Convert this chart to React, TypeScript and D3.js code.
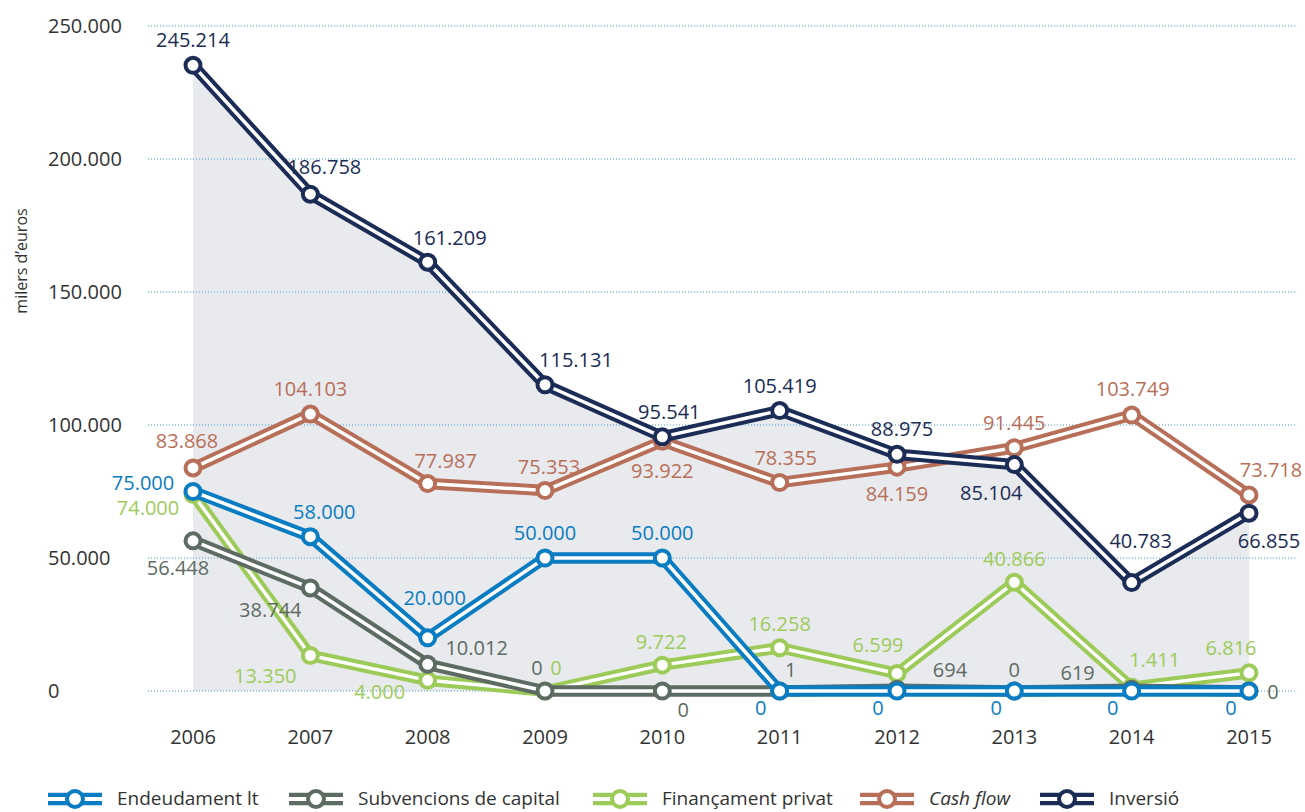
import React, { useEffect } from "react";
import * as d3 from "d3";

// ---- data ----
const years = ["2006", "2007", "2008", "2009", "2010", "2011", "2012", "2013", "2014", "2015"];
const endeudament = [75000, 58000, 20000, 50000, 50000, 0, 0, 0, 0, 0];
const subvencions = [56448, 38744, 10012, 0, 0, 1, 694, 0, 619, 0];
const financament = [74000, 13350, 4000, 0, 9722, 16258, 6599, 40866, 1411, 6816];
const cashFlow = [83868, 104103, 77987, 75353, 93922, 78355, 84159, 91445, 103749, 73718];
// the 2006 point is drawn at ~235k in the picture although its label reads 245.214
const inversio = [235214, 186758, 161209, 115131, 95541, 105419, 88975, 85104, 40783, 66855];
const inversioLabelOverride: Record<number, string> = { 0: "245.214" };
const yTicks = [0, 50000, 100000, 150000, 200000, 250000];
const seriesNames = ["Endeudament lt", "Subvencions de capital", "Finançament privat", "Cash flow", "Inversió"];

// ---- styles / layout ----
const COLORS = {
  end: "#0a7cc2",
  sub: "#5d6b62",
  fin: "#9dcb5a",
  cash: "#b86f59",
  inv: "#1b2c56",
};
const FONT = "'Open Sans', 'Noto Sans', sans-serif";

// label offsets (dx, dy) from each point
const offEnd = [[-50, -9], [14, -25], [7, -40], [0, -25], [0, -25], [-19, 17], [-19, 17], [-18, 17], [-19, 17], [-18, 17]];
const offSub = [[-15, 27], [-40, 22], [49, -16], [-8, -23], [21, 19], [11, -21], [53, -19], [0, -21], [-54, -16], [24, 1]];
const offFin = [[-45, 14], [-45, 21], [-48, 12], [11, -23], [-1, -23], [0, -24], [-19, -28], [0, -23], [23, -27], [-18, -25]];
const offCash = [[-6, -27], [0, -25], [18, -23], [4, -24], [0, 30], [6, -25], [0, 27], [0, -25], [1, -26], [22, -25]];
const offInv = [[0, -25], [14, -27], [22, -24], [31, -25], [7, -25], [0, -25], [5, -25], [-23, 28], [9, -42], [20, 28]];

const fmt = (v: number) => d3.format(",")(v).replace(/,/g, ".");

type Series = {
  name: string;
  values: number[];
  color: string;
  offsets: number[][];
  labelOverride?: Record<number, string>;
};

export default function App() {
  useEffect(() => {
    document.body.style.margin = "0";
  }, []);

  const W = 1305;
  const H = 812;
  const x = d3.scalePoint<string>().domain(years).range([193, 1249]);
  const y = d3.scaleLinear().domain([0, 250000]).range([691, 26]);

  const legendSeries: Series[] = [
    { name: seriesNames[0], values: endeudament, color: COLORS.end, offsets: offEnd },
    { name: seriesNames[1], values: subvencions, color: COLORS.sub, offsets: offSub },
    { name: seriesNames[2], values: financament, color: COLORS.fin, offsets: offFin },
    { name: seriesNames[3], values: cashFlow, color: COLORS.cash, offsets: offCash },
    { name: seriesNames[4], values: inversio, color: COLORS.inv, offsets: offInv, labelOverride: inversioLabelOverride },
  ];
  // drawing order (bottom to top)
  const drawOrder = [legendSeries[2], legendSeries[1], legendSeries[0], legendSeries[3], legendSeries[4]];

  const line = d3
    .line<number>()
    .x((_, i) => x(years[i]) as number)
    .y((d) => y(d));
  const area = d3
    .area<number>()
    .x((_, i) => x(years[i]) as number)
    .y0(y(0))
    .y1((d) => y(d));

  const legendX = [48, 289, 593, 860, 1040];
  const legendY = 799;

  return (
    <svg width={W} height={H} style={{ display: "block" }} fontFamily={FONT}>
      <rect width={W} height={H} fill="#ffffff" />
      {/* background area under Inversió */}
      <path d={area(inversio) || ""} fill="#e9eaee" />
      {/* grid lines */}
      {yTicks.map((t) => (
        <line
          key={t}
          x1={148}
          x2={1297}
          y1={y(t)}
          y2={y(t)}
          stroke="#3f9ad6"
          strokeWidth={1}
          strokeDasharray="1,2"
        />
      ))}
      {/* y tick labels */}
      {yTicks.map((t) => (
        <text key={"yl" + t} x={48} y={y(t)} dy="0.35em" fontSize={20} fill="#333333">
          {fmt(t)}
        </text>
      ))}
      {/* y title */}
      <text
        transform={`translate(21,261) rotate(-90)`}
        textAnchor="middle"
        dy="0.35em"
        fontSize={16}
        fill="#333333"
      >
        milers d’euros
      </text>
      {/* x labels */}
      {years.map((yr) => (
        <text key={yr} x={x(yr)} y={737} dy="0.35em" textAnchor="middle" fontSize={20} fill="#333333">
          {yr}
        </text>
      ))}
      {/* series */}
      {drawOrder.map((s) => (
        <g key={s.name}>
          <path d={line(s.values) || ""} fill="none" stroke={s.color} strokeWidth={11.5} strokeLinejoin="round" />
          <path d={line(s.values) || ""} fill="none" stroke="#ffffff" strokeWidth={3.5} strokeLinejoin="round" />
          {s.values.map((v, i) => (
            <circle key={i} cx={x(years[i])} cy={y(v)} r={7.5} fill="#ffffff" stroke={s.color} strokeWidth={4} />
          ))}
        </g>
      ))}
      {/* data labels */}
      {drawOrder.map((s) => (
        <g key={"lab" + s.name}>
          {s.values.map((v, i) => (
            <text
              key={i}
              x={(x(years[i]) as number) + s.offsets[i][0]}
              y={y(v) + s.offsets[i][1]}
              dy="0.35em"
              textAnchor="middle"
              fontSize={20}
              fill={s.color}
            >
              {s.labelOverride && s.labelOverride[i] ? s.labelOverride[i] : fmt(v)}
            </text>
          ))}
        </g>
      ))}
      {/* legend */}
      {legendSeries.map((s, i) => {
        const lx = legendX[i];
        return (
          <g key={"lg" + s.name} transform={`translate(${lx},${legendY})`}>
            <line x1={0} x2={54} y1={0} y2={0} stroke={s.color} strokeWidth={12.5} />
            <line x1={0} x2={54} y1={0} y2={0} stroke="#ffffff" strokeWidth={4} />
            <circle cx={27} cy={0} r={8} fill="#ffffff" stroke={s.color} strokeWidth={4} />
            <text
              x={69}
              y={0}
              dy="0.33em"
              fontSize={19}
              fill="#333333"
              fontStyle={s.name === "Cash flow" ? "italic" : "normal"}
            >
              {s.name}
            </text>
          </g>
        );
      })}
    </svg>
  );
}
